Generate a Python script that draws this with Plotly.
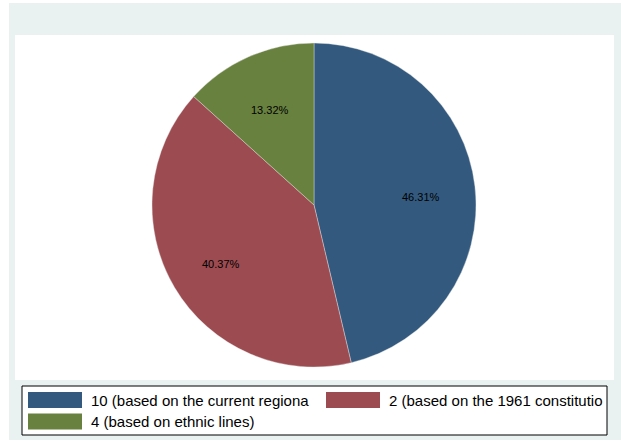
import math
import plotly.graph_objects as go

# Slice data (percent share of each option)
labels = [
    "10 (based on the current regiona",
    "2 (based on the 1961 constitutio",
    "4 (based on ethnic lines)",
]
values = [46.31, 40.37, 13.32]
colors = ["#335a7e", "#9c4b51", "#68813f"]

W, H = 621, 442

def px(x):
    return x / W

def py(y):
    return 1 - y / H

# pie geometry in pixels
CX, CY, R = 314, 205, 162

fig = go.Figure()

fig.add_trace(go.Pie(
    labels=labels,
    values=values,
    sort=False,
    direction="clockwise",
    rotation=0,
    marker=dict(colors=colors, line=dict(color="#e6e6e6", width=0.4)),
    textinfo="none",
    domain=dict(x=[px(CX - R), px(CX + R)], y=[py(CY + R), py(CY - R)]),
    showlegend=False,
    hoverinfo="label+percent",
))

annotations = []
# slice labels at two thirds of the radius, on each slice's mid angle
total = sum(values)
cum = 0.0
for v in values:
    mid = (cum + v / 2) / total * 2 * math.pi
    cum += v
    lx = CX + R * 2 / 3 * math.sin(mid)
    ly = CY - R * 2 / 3 * math.cos(mid)
    annotations.append(dict(x=px(lx), y=py(ly), xref="paper", yref="paper",
                            text=f"{v:.2f}%", showarrow=False,
                            xanchor="center", yanchor="middle", yshift=-4,
                            font=dict(family="Liberation Sans, Arial", size=11, color="black")))

shapes = [
    # outer graph region
    dict(type="rect", xref="paper", yref="paper",
         x0=px(9), x1=px(621), y0=py(440), y1=py(3),
         fillcolor="#e9f1f1", line=dict(width=0), layer="below"),
    # inner plot region
    dict(type="rect", xref="paper", yref="paper",
         x0=px(15), x1=px(614), y0=py(380), y1=py(35),
         fillcolor="white", line=dict(width=0), layer="below"),
    # legend frame
    dict(type="rect", xref="paper", yref="paper",
         x0=px(22), x1=px(607), y0=py(435), y1=py(386),
         fillcolor="white", line=dict(color="black", width=1), layer="below"),
]

# legend keys: two columns, wrapping rows
key_x = [28, 326]
row_y = [400, 421.5]
for i, (lab, col) in enumerate(zip(labels, colors)):
    cx = key_x[i % 2]
    cy = row_y[i // 2]
    shapes.append(dict(type="rect", xref="paper", yref="paper",
                       x0=px(cx), x1=px(cx + 54), y0=py(cy + 8), y1=py(cy - 8),
                       fillcolor=col, line=dict(width=0)))
    annotations.append(dict(x=px(cx + 61), y=py(cy), xref="paper", yref="paper",
                            text=lab, showarrow=False, xanchor="left", yanchor="middle",
                            font=dict(family="Liberation Sans, Arial", size=15, color="black")))

fig.update_layout(
    width=W, height=H,
    margin=dict(l=0, r=0, t=0, b=0),
    paper_bgcolor="white",
    plot_bgcolor="white",
    shapes=shapes,
    annotations=annotations,
)

fig.write_html("out.html")
